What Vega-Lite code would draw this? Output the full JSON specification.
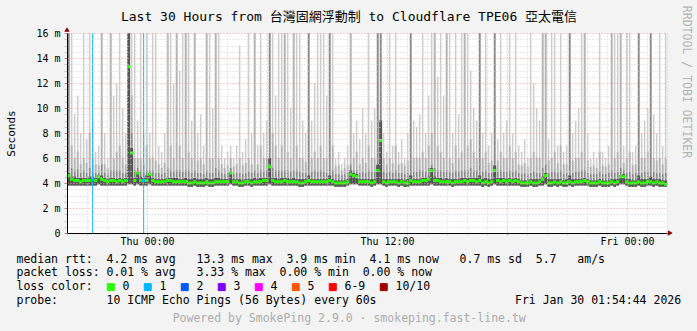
{
  "$schema": "https://vega.github.io/schema/vega-lite/v6.json",
  "width": 600,
  "height": 200,
  "autosize": {"type": "none"},
  "padding": {"left": 67, "top": 33, "right": 30, "bottom": 98},
  "background": "#f3f3f3",
  "config": {"view": {"fill": "#ffffff", "stroke": null}, "font": "DejaVu Sans Mono"},
  "title": {
    "text": "Last 30 Hours from 台灣固網浮動制 to Cloudflare TPE06 亞太電信",
    "font": "DejaVu Sans Mono, Noto Sans CJK TC",
    "fontSize": 13,
    "fontWeight": "normal",
    "color": "#000000",
    "anchor": "middle",
    "frame": "group",
    "dx": -18,
    "offset": -32,
    "baseline": "bottom"
  },
  "data": {"values": [
    {"t":5,"lo":3.8,"m":4.6,"d":4.8,"c":20,"b":20,"a":20,"l":"0"},
    {"t":14,"lo":3.8,"m":4.3,"d":4.5,"c":5.2,"b":7,"a":20,"l":"0"},
    {"t":23,"lo":3.8,"m":4.2,"d":4.5,"c":5,"b":6,"a":9.5,"l":"0"},
    {"t":32,"lo":3.8,"m":4.2,"d":4.4,"c":5.1,"b":6.5,"a":11,"l":"0"},
    {"t":41,"lo":3.8,"m":4.1,"d":4.4,"c":4.8,"b":5.5,"a":8,"l":"0"},
    {"t":50,"lo":3.8,"m":4.2,"d":4.4,"c":5,"b":6,"a":20,"l":"0"},
    {"t":59,"lo":3.8,"m":4.2,"d":4.4,"c":4.8,"b":5.6,"a":7.5,"l":"0"},
    {"t":68,"lo":3.8,"m":4.2,"d":4.5,"c":5.2,"b":8,"a":20,"l":"0"},
    {"t":77,"lo":3.8,"m":4.3,"d":4.5,"c":5,"b":6,"a":9,"l":"1"},
    {"t":86,"lo":3.8,"m":4.2,"d":4.4,"c":4.8,"b":5.5,"a":6.5,"l":"0"},
    {"t":95,"lo":3.9,"m":4.5,"d":4.6,"c":4.8,"b":5.4,"a":7,"l":"0"},
    {"t":104,"lo":3.8,"m":4.3,"d":4.6,"c":5.5,"b":20,"a":20,"l":"0"},
    {"t":113,"lo":3.8,"m":4.2,"d":4.4,"c":4.8,"b":5.5,"a":8,"l":"0"},
    {"t":122,"lo":3.8,"m":4.1,"d":4.3,"c":4.7,"b":5.2,"a":6,"l":"0"},
    {"t":131,"lo":3.8,"m":4.2,"d":4.4,"c":5,"b":20,"a":20,"l":"0"},
    {"t":140,"lo":3.8,"m":4.2,"d":4.4,"c":5,"b":6,"a":11,"l":"0"},
    {"t":149,"lo":3.8,"m":4.1,"d":4.3,"c":5,"b":6.5,"a":12,"l":"0"},
    {"t":158,"lo":3.8,"m":4.2,"d":4.4,"c":5,"b":7,"a":20,"l":"0"},
    {"t":167,"lo":3.8,"m":4.1,"d":4.3,"c":4.8,"b":6,"a":10,"l":"0"},
    {"t":176,"lo":3.8,"m":4.2,"d":4.4,"c":4.8,"b":5.5,"a":8,"l":"0"},
    {"t":185,"lo":3.9,"m":13.3,"d":20,"c":20,"b":20,"a":20,"l":"0"},
    {"t":194,"lo":3.9,"m":6.4,"d":6.8,"c":8,"b":11,"a":20,"l":"0"},
    {"t":203,"lo":3.8,"m":4.2,"d":4.4,"c":5,"b":6,"a":20,"l":"0"},
    {"t":212,"lo":3.9,"m":4.8,"d":4.9,"c":5.2,"b":6,"a":9,"l":"0"},
    {"t":221,"lo":3.8,"m":4.2,"d":4.5,"c":5,"b":6,"a":20,"l":"0"},
    {"t":230,"lo":3.8,"m":4.2,"d":4.4,"c":4.8,"b":5.5,"a":8,"l":"1"},
    {"t":239,"lo":3.8,"m":4.2,"d":4.6,"c":5,"b":7,"a":20,"l":"0"},
    {"t":248,"lo":3.9,"m":4.7,"d":4.8,"c":5,"b":6,"a":8,"l":"0"},
    {"t":257,"lo":3.8,"m":4.2,"d":4.4,"c":5,"b":6,"a":20,"l":"0"},
    {"t":266,"lo":3.8,"m":4.1,"d":4.3,"c":4.8,"b":5.8,"a":20,"l":"0"},
    {"t":275,"lo":3.8,"m":4.1,"d":4.3,"c":4.8,"b":5.5,"a":7,"l":"0"},
    {"t":284,"lo":3.8,"m":4.1,"d":4.3,"c":4.7,"b":5.2,"a":6.5,"l":"0"},
    {"t":293,"lo":3.8,"m":4.1,"d":4.3,"c":4.8,"b":5.6,"a":8,"l":"0"},
    {"t":302,"lo":3.8,"m":4.2,"d":4.4,"c":5.2,"b":20,"a":20,"l":"0"},
    {"t":311,"lo":3.8,"m":4.2,"d":4.4,"c":5,"b":7,"a":20,"l":"0"},
    {"t":320,"lo":3.8,"m":4.1,"d":4.4,"c":4.9,"b":6,"a":12,"l":"0"},
    {"t":329,"lo":3.8,"m":4.1,"d":4.4,"c":5,"b":20,"a":20,"l":"0"},
    {"t":338,"lo":3.8,"m":4.1,"d":4.3,"c":5,"b":7,"a":13,"l":"0"},
    {"t":347,"lo":3.8,"m":4.1,"d":4.3,"c":4.9,"b":6,"a":20,"l":"0"},
    {"t":356,"lo":3.8,"m":4.1,"d":4.4,"c":5,"b":20,"a":20,"l":"0"},
    {"t":365,"lo":3.7,"m":4.0,"d":4.3,"c":5,"b":6.5,"a":20,"l":"0"},
    {"t":374,"lo":3.7,"m":4.0,"d":4.3,"c":4.8,"b":6,"a":9,"l":"0"},
    {"t":383,"lo":3.8,"m":4.1,"d":4.4,"c":5,"b":20,"a":20,"l":"0"},
    {"t":392,"lo":3.7,"m":4.0,"d":4.3,"c":4.8,"b":5.8,"a":8,"l":"0"},
    {"t":401,"lo":3.7,"m":4.0,"d":4.3,"c":4.8,"b":6,"a":9.5,"l":"0"},
    {"t":410,"lo":3.7,"m":4.0,"d":4.3,"c":4.7,"b":5.5,"a":7,"l":"0"},
    {"t":419,"lo":3.8,"m":4.1,"d":4.4,"c":5,"b":20,"a":20,"l":"0"},
    {"t":428,"lo":3.7,"m":4.0,"d":4.3,"c":4.8,"b":6,"a":20,"l":"0"},
    {"t":437,"lo":3.7,"m":4.0,"d":4.3,"c":4.8,"b":6,"a":10,"l":"0"},
    {"t":446,"lo":3.8,"m":4.1,"d":4.4,"c":5.2,"b":20,"a":20,"l":"0"},
    {"t":455,"lo":3.8,"m":4.1,"d":4.4,"c":5,"b":6,"a":20,"l":"0"},
    {"t":464,"lo":3.8,"m":4.1,"d":4.3,"c":4.8,"b":5.5,"a":7,"l":"0"},
    {"t":473,"lo":3.8,"m":4.1,"d":4.3,"c":4.7,"b":5.2,"a":6,"l":"0"},
    {"t":482,"lo":3.8,"m":4.1,"d":4.3,"c":4.8,"b":5.4,"a":6.5,"l":"0"},
    {"t":491,"lo":3.9,"m":4.8,"d":4.9,"c":5.2,"b":6,"a":7,"l":"0"},
    {"t":500,"lo":3.8,"m":4.1,"d":4.3,"c":4.7,"b":5.3,"a":6,"l":"0"},
    {"t":509,"lo":3.8,"m":4.1,"d":4.3,"c":4.8,"b":5.5,"a":7,"l":"0"},
    {"t":518,"lo":3.7,"m":4.0,"d":4.3,"c":4.8,"b":6,"a":15,"l":"0"},
    {"t":527,"lo":3.7,"m":4.0,"d":4.2,"c":4.7,"b":5.4,"a":6.5,"l":"0"},
    {"t":536,"lo":3.8,"m":4.1,"d":4.3,"c":4.8,"b":5.6,"a":7.5,"l":"0"},
    {"t":545,"lo":3.8,"m":4.1,"d":4.3,"c":4.9,"b":6,"a":20,"l":"0"},
    {"t":554,"lo":3.7,"m":4.0,"d":4.3,"c":4.8,"b":5.5,"a":8,"l":"0"},
    {"t":563,"lo":3.8,"m":4.1,"d":4.4,"c":5,"b":20,"a":20,"l":"0"},
    {"t":572,"lo":3.8,"m":4.1,"d":4.3,"c":4.8,"b":5.5,"a":7,"l":"0"},
    {"t":581,"lo":3.8,"m":4.1,"d":4.4,"c":5,"b":7,"a":20,"l":"0"},
    {"t":590,"lo":3.8,"m":4.2,"d":4.4,"c":4.9,"b":6,"a":8,"l":"0"},
    {"t":599,"lo":3.8,"m":4.2,"d":4.4,"c":5,"b":6,"a":9,"l":"0"},
    {"t":608,"lo":3.9,"m":5.3,"d":6,"c":20,"b":20,"a":20,"l":"0"},
    {"t":617,"lo":3.8,"m":4.2,"d":4.4,"c":5.2,"b":8,"a":20,"l":"0"},
    {"t":626,"lo":3.8,"m":4.1,"d":4.4,"c":5,"b":7,"a":11,"l":"0"},
    {"t":635,"lo":3.8,"m":4.1,"d":4.3,"c":5,"b":6,"a":20,"l":"0"},
    {"t":644,"lo":3.8,"m":4.1,"d":4.4,"c":5,"b":7,"a":20,"l":"0"},
    {"t":653,"lo":3.8,"m":4.2,"d":4.4,"c":5,"b":20,"a":20,"l":"0"},
    {"t":662,"lo":3.8,"m":4.1,"d":4.4,"c":5,"b":6.5,"a":20,"l":"0"},
    {"t":671,"lo":3.8,"m":4.1,"d":4.3,"c":4.9,"b":6,"a":10,"l":"0"},
    {"t":680,"lo":3.8,"m":4.1,"d":4.4,"c":5,"b":20,"a":20,"l":"0"},
    {"t":689,"lo":3.8,"m":4.1,"d":4.3,"c":5,"b":7,"a":20,"l":"0"},
    {"t":698,"lo":3.7,"m":4.0,"d":4.3,"c":4.9,"b":6,"a":20,"l":"0"},
    {"t":707,"lo":3.7,"m":4.0,"d":4.3,"c":4.8,"b":6,"a":9,"l":"0"},
    {"t":716,"lo":3.8,"m":4.1,"d":4.3,"c":4.8,"b":5.7,"a":8,"l":"0"},
    {"t":725,"lo":3.8,"m":4.2,"d":4.6,"c":20,"b":20,"a":20,"l":"0"},
    {"t":734,"lo":3.8,"m":4.1,"d":4.3,"c":4.9,"b":6,"a":9,"l":"0"},
    {"t":743,"lo":3.8,"m":4.1,"d":4.3,"c":5,"b":6.5,"a":12,"l":"0"},
    {"t":752,"lo":3.8,"m":4.1,"d":4.3,"c":4.9,"b":6,"a":20,"l":"0"},
    {"t":761,"lo":3.8,"m":4.1,"d":4.3,"c":5,"b":7,"a":20,"l":"0"},
    {"t":770,"lo":3.8,"m":4.1,"d":4.3,"c":4.9,"b":6,"a":20,"l":"0"},
    {"t":779,"lo":3.8,"m":4.1,"d":4.3,"c":4.8,"b":6,"a":11,"l":"0"},
    {"t":788,"lo":3.8,"m":4.2,"d":4.6,"c":20,"b":20,"a":20,"l":"0"},
    {"t":797,"lo":3.8,"m":4.1,"d":4.3,"c":5,"b":7,"a":20,"l":"0"},
    {"t":806,"lo":3.7,"m":4.0,"d":4.2,"c":4.7,"b":5.3,"a":6,"l":"0"},
    {"t":815,"lo":3.7,"m":4.0,"d":4.2,"c":4.7,"b":5.4,"a":6.5,"l":"0"},
    {"t":824,"lo":3.7,"m":4.0,"d":4.2,"c":4.6,"b":5,"a":5.5,"l":"0"},
    {"t":833,"lo":3.7,"m":4.0,"d":4.2,"c":4.7,"b":5.2,"a":6,"l":"0"},
    {"t":842,"lo":3.8,"m":4.1,"d":4.3,"c":4.8,"b":5.4,"a":7,"l":"0"},
    {"t":851,"lo":3.9,"m":4.7,"d":5,"c":5.5,"b":20,"a":20,"l":"0"},
    {"t":860,"lo":3.9,"m":4.6,"d":4.8,"c":5,"b":6,"a":8,"l":"0"},
    {"t":869,"lo":3.9,"m":4.5,"d":4.7,"c":5,"b":6.5,"a":9,"l":"0"},
    {"t":878,"lo":3.8,"m":4.1,"d":4.3,"c":4.8,"b":5.5,"a":7.5,"l":"0"},
    {"t":887,"lo":3.8,"m":4.1,"d":4.3,"c":4.9,"b":6,"a":10,"l":"0"},
    {"t":896,"lo":3.8,"m":4.1,"d":4.3,"c":4.8,"b":5.6,"a":8,"l":"0"},
    {"t":905,"lo":3.8,"m":4.1,"d":4.3,"c":5,"b":7,"a":20,"l":"0"},
    {"t":914,"lo":3.7,"m":4.0,"d":4.3,"c":4.9,"b":6,"a":9,"l":"0"},
    {"t":923,"lo":3.8,"m":4.1,"d":4.3,"c":4.9,"b":6,"a":10,"l":"0"},
    {"t":932,"lo":3.9,"m":5.0,"d":5.5,"c":20,"b":20,"a":20,"l":"0"},
    {"t":941,"lo":3.9,"m":7.4,"d":9,"c":20,"b":20,"a":20,"l":"0"},
    {"t":950,"lo":3.8,"m":4.1,"d":4.3,"c":4.9,"b":6,"a":8,"l":"0"},
    {"t":959,"lo":3.7,"m":4.0,"d":4.3,"c":4.8,"b":5.5,"a":6.5,"l":"0"},
    {"t":968,"lo":3.8,"m":4.1,"d":4.3,"c":4.9,"b":6,"a":20,"l":"0"},
    {"t":977,"lo":3.8,"m":4.1,"d":4.3,"c":4.8,"b":5.6,"a":7,"l":"0"},
    {"t":986,"lo":3.8,"m":4.1,"d":4.3,"c":5,"b":7,"a":20,"l":"0"},
    {"t":995,"lo":3.7,"m":4.0,"d":4.3,"c":4.8,"b":5.5,"a":6.5,"l":"0"},
    {"t":1004,"lo":3.8,"m":4.1,"d":4.3,"c":4.8,"b":5.6,"a":7.5,"l":"0"},
    {"t":1013,"lo":3.7,"m":4.0,"d":4.2,"c":4.7,"b":5.4,"a":6,"l":"0"},
    {"t":1022,"lo":3.7,"m":4.0,"d":4.3,"c":4.8,"b":5.8,"a":8,"l":"0"},
    {"t":1031,"lo":3.8,"m":4.2,"d":4.6,"c":20,"b":20,"a":20,"l":"0"},
    {"t":1040,"lo":3.8,"m":4.1,"d":4.3,"c":4.9,"b":6,"a":9,"l":"0"},
    {"t":1049,"lo":3.8,"m":4.1,"d":4.3,"c":4.9,"b":6,"a":8.5,"l":"0"},
    {"t":1058,"lo":3.8,"m":4.1,"d":4.3,"c":5,"b":6,"a":9.5,"l":"0"},
    {"t":1067,"lo":3.8,"m":4.2,"d":4.4,"c":5,"b":6.5,"a":20,"l":"0"},
    {"t":1076,"lo":3.8,"m":4.2,"d":4.4,"c":4.9,"b":6,"a":8,"l":"0"},
    {"t":1085,"lo":3.8,"m":4.3,"d":4.5,"c":5.2,"b":7,"a":11,"l":"0"},
    {"t":1094,"lo":3.9,"m":5.0,"d":5.2,"c":5.5,"b":8,"a":20,"l":"0"},
    {"t":1103,"lo":3.8,"m":4.2,"d":4.5,"c":5.2,"b":20,"a":20,"l":"0"},
    {"t":1112,"lo":3.8,"m":4.2,"d":4.4,"c":5,"b":7,"a":12.5,"l":"0"},
    {"t":1121,"lo":3.8,"m":4.1,"d":4.4,"c":5,"b":6.5,"a":20,"l":"0"},
    {"t":1130,"lo":3.8,"m":4.1,"d":4.3,"c":4.9,"b":6,"a":11,"l":"0"},
    {"t":1139,"lo":3.8,"m":4.1,"d":4.4,"c":5,"b":20,"a":20,"l":"0"},
    {"t":1148,"lo":3.8,"m":4.1,"d":4.3,"c":4.9,"b":6,"a":20,"l":"0"},
    {"t":1157,"lo":3.7,"m":4.0,"d":4.3,"c":4.8,"b":5.6,"a":8,"l":"0"},
    {"t":1166,"lo":3.8,"m":4.1,"d":4.3,"c":5,"b":7,"a":20,"l":"0"},
    {"t":1175,"lo":3.8,"m":4.1,"d":4.3,"c":4.9,"b":6,"a":9.5,"l":"0"},
    {"t":1184,"lo":3.8,"m":4.1,"d":4.4,"c":5,"b":6.5,"a":20,"l":"0"},
    {"t":1193,"lo":3.8,"m":4.2,"d":4.4,"c":5,"b":20,"a":20,"l":"0"},
    {"t":1202,"lo":3.8,"m":4.1,"d":4.4,"c":5,"b":7,"a":20,"l":"0"},
    {"t":1211,"lo":3.8,"m":4.2,"d":4.4,"c":5.2,"b":7.5,"a":13,"l":"0"},
    {"t":1220,"lo":3.8,"m":4.2,"d":4.4,"c":5,"b":6.5,"a":10,"l":"0"},
    {"t":1229,"lo":3.8,"m":4.1,"d":4.4,"c":5,"b":6,"a":9,"l":"0"},
    {"t":1238,"lo":3.8,"m":4.2,"d":4.6,"c":20,"b":20,"a":20,"l":"0"},
    {"t":1247,"lo":3.7,"m":4.0,"d":4.3,"c":4.9,"b":6,"a":8,"l":"0"},
    {"t":1256,"lo":3.8,"m":4.1,"d":4.4,"c":5,"b":6.5,"a":20,"l":"0"},
    {"t":1265,"lo":3.7,"m":4.0,"d":4.3,"c":4.8,"b":5.6,"a":7,"l":"0"},
    {"t":1274,"lo":3.8,"m":4.1,"d":4.3,"c":4.8,"b":5.8,"a":8,"l":"0"},
    {"t":1283,"lo":3.9,"m":5.0,"d":5.4,"c":20,"b":20,"a":20,"l":"0"},
    {"t":1292,"lo":3.8,"m":4.2,"d":4.4,"c":4.9,"b":5.8,"a":7.5,"l":"0"},
    {"t":1301,"lo":3.8,"m":4.1,"d":4.4,"c":5,"b":6.5,"a":20,"l":"0"},
    {"t":1310,"lo":3.8,"m":4.2,"d":4.4,"c":4.9,"b":6,"a":8,"l":"0"},
    {"t":1319,"lo":3.8,"m":4.1,"d":4.3,"c":4.9,"b":6,"a":9,"l":"0"},
    {"t":1328,"lo":3.8,"m":4.2,"d":4.4,"c":5,"b":7,"a":20,"l":"0"},
    {"t":1337,"lo":3.8,"m":4.1,"d":4.3,"c":4.9,"b":6,"a":8,"l":"0"},
    {"t":1346,"lo":3.8,"m":4.2,"d":4.4,"c":5,"b":6.5,"a":20,"l":"0"},
    {"t":1355,"lo":3.8,"m":4.1,"d":4.3,"c":4.8,"b":5.5,"a":7,"l":"0"},
    {"t":1364,"lo":3.7,"m":4.0,"d":4.2,"c":4.7,"b":5.4,"a":6.5,"l":"0"},
    {"t":1373,"lo":3.7,"m":4.0,"d":4.2,"c":4.8,"b":5.6,"a":7.5,"l":"0"},
    {"t":1382,"lo":3.7,"m":4.0,"d":4.2,"c":4.7,"b":5.3,"a":6,"l":"0"},
    {"t":1391,"lo":3.8,"m":4.1,"d":4.3,"c":4.8,"b":6,"a":20,"l":"0"},
    {"t":1400,"lo":3.7,"m":4.0,"d":4.3,"c":4.9,"b":6.5,"a":12,"l":"0"},
    {"t":1409,"lo":3.7,"m":4.0,"d":4.3,"c":4.8,"b":6,"a":10,"l":"0"},
    {"t":1418,"lo":3.8,"m":4.1,"d":4.3,"c":4.8,"b":6,"a":9,"l":"0"},
    {"t":1427,"lo":3.8,"m":4.3,"d":4.5,"c":5.2,"b":20,"a":20,"l":"0"},
    {"t":1436,"lo":3.9,"m":4.6,"d":4.8,"c":5.5,"b":20,"a":20,"l":"0"},
    {"t":1445,"lo":3.7,"m":4.0,"d":4.3,"c":4.8,"b":5.8,"a":7.5,"l":"0"},
    {"t":1454,"lo":3.7,"m":4.0,"d":4.3,"c":4.9,"b":6,"a":20,"l":"0"},
    {"t":1463,"lo":3.8,"m":4.1,"d":4.3,"c":4.9,"b":6.5,"a":20,"l":"0"},
    {"t":1472,"lo":3.7,"m":4.0,"d":4.3,"c":4.8,"b":5.6,"a":7,"l":"0"},
    {"t":1481,"lo":3.8,"m":4.1,"d":4.3,"c":5,"b":7,"a":20,"l":"0"},
    {"t":1490,"lo":3.7,"m":4.0,"d":4.2,"c":4.7,"b":5.5,"a":6.5,"l":"0"},
    {"t":1499,"lo":3.7,"m":4.0,"d":4.3,"c":4.8,"b":5.5,"a":7,"l":"0"},
    {"t":1508,"lo":3.8,"m":4.1,"d":4.6,"c":20,"b":20,"a":20,"l":"0"},
    {"t":1517,"lo":3.7,"m":4.0,"d":4.3,"c":4.8,"b":5.8,"a":8,"l":"0"},
    {"t":1526,"lo":3.8,"m":4.1,"d":4.3,"c":4.9,"b":6,"a":9,"l":"0"},
    {"t":1535,"lo":3.8,"m":4.1,"d":4.3,"c":4.9,"b":6,"a":10,"l":"0"},
    {"t":1544,"lo":3.8,"m":4.1,"d":4.3,"c":5,"b":6.5,"a":20,"l":"0"},
    {"t":1553,"lo":3.8,"m":4.2,"d":4.4,"c":5,"b":20,"a":20,"l":"0"},
    {"t":1562,"lo":3.8,"m":4.1,"d":4.3,"c":4.8,"b":5.8,"a":8,"l":"0"},
    {"t":1571,"lo":3.7,"m":4.0,"d":4.2,"c":4.7,"b":5.3,"a":6,"l":"0"},
    {"t":1580,"lo":3.7,"m":4.0,"d":4.2,"c":4.7,"b":5.4,"a":6.5,"l":"0"},
    {"t":1589,"lo":3.7,"m":4.0,"d":4.2,"c":4.7,"b":5.2,"a":6,"l":"0"},
    {"t":1598,"lo":3.8,"m":4.1,"d":4.3,"c":4.9,"b":6.5,"a":20,"l":"0"},
    {"t":1607,"lo":3.7,"m":4.0,"d":4.2,"c":4.7,"b":5.4,"a":6.5,"l":"0"},
    {"t":1616,"lo":3.7,"m":4.0,"d":4.2,"c":4.7,"b":5.3,"a":6,"l":"0"},
    {"t":1625,"lo":3.7,"m":4.0,"d":4.2,"c":4.8,"b":5.5,"a":7,"l":"0"},
    {"t":1634,"lo":3.8,"m":4.1,"d":4.3,"c":5,"b":20,"a":20,"l":"0"},
    {"t":1643,"lo":3.7,"m":4.0,"d":4.3,"c":4.8,"b":6,"a":20,"l":"0"},
    {"t":1652,"lo":3.8,"m":4.1,"d":4.3,"c":4.9,"b":6.5,"a":20,"l":"0"},
    {"t":1661,"lo":3.9,"m":4.5,"d":4.6,"c":5.2,"b":20,"a":20,"l":"0"},
    {"t":1670,"lo":3.9,"m":4.5,"d":4.7,"c":5,"b":5.6,"a":7,"l":"0"},
    {"t":1679,"lo":3.8,"m":4.1,"d":4.3,"c":4.8,"b":6,"a":20,"l":"0"},
    {"t":1688,"lo":3.7,"m":4.0,"d":4.3,"c":4.9,"b":6.5,"a":20,"l":"0"},
    {"t":1697,"lo":3.7,"m":4.0,"d":4.2,"c":4.7,"b":5.4,"a":6.5,"l":"0"},
    {"t":1706,"lo":3.7,"m":4.0,"d":4.2,"c":4.8,"b":5.5,"a":7,"l":"0"},
    {"t":1715,"lo":3.8,"m":4.1,"d":4.6,"c":20,"b":20,"a":20,"l":"0"},
    {"t":1724,"lo":3.7,"m":4.0,"d":4.3,"c":4.8,"b":6,"a":8,"l":"0"},
    {"t":1733,"lo":3.7,"m":4.0,"d":4.3,"c":4.9,"b":6,"a":9,"l":"0"},
    {"t":1742,"lo":3.8,"m":4.1,"d":4.3,"c":4.9,"b":6.5,"a":10,"l":"0"},
    {"t":1751,"lo":3.8,"m":4.1,"d":4.5,"c":20,"b":20,"a":20,"l":"0"},
    {"t":1760,"lo":3.7,"m":4.0,"d":4.3,"c":4.9,"b":6,"a":9.5,"l":"0"},
    {"t":1769,"lo":3.8,"m":4.1,"d":4.3,"c":4.8,"b":5.8,"a":8,"l":"0"},
    {"t":1778,"lo":3.7,"m":4.0,"d":4.3,"c":4.8,"b":6,"a":20,"l":"0"},
    {"t":1787,"lo":3.7,"m":4.0,"d":4.2,"c":4.7,"b":5.5,"a":7,"l":"0"},
    {"t":1796,"lo":3.7,"m":3.9,"d":4.2,"c":4.8,"b":6,"a":20,"l":"0"}
  ]},
  "resolve": {"axis": {"x": "independent", "y": "independent"}},
  "layer": [
    {
      "mark": {"type": "rule", "strokeWidth": 1.5, "color": "#cdcdcd", "clip": true},
      "encoding": {
        "x": {
          "field": "t", "type": "quantitative",
          "scale": {"domain": [0, 1800], "nice": false, "zero": false},
          "axis": {
            "values": [0,60,120,180,240,300,360,420,480,540,600,660,720,780,840,900,960,1020,1080,1140,1200,1260,1320,1380,1440,1500,1560,1620,1680,1740,1800],
            "labelExpr": "datum.value == 240 ? 'Thu 00:00' : datum.value == 960 ? 'Thu 12:00' : datum.value == 1680 ? 'Fri 00:00' : ''",
            "labelOverlap": false, "labelFlush": false,
            "labelFont": "DejaVu Sans Mono", "labelFontSize": 10, "labelColor": "#000000", "labelPadding": 1,
            "tickSize": 2, "tickColor": {"condition": {"test": "datum.value % 360 == 240", "value": "#d08080"}, "value": "#c8c8c8"},
            "grid": true, "gridDash": [1, 2],
            "gridColor": {"condition": {"test": "datum.value % 360 == 240", "value": "#e8a0a0"}, "value": "#d4d4d4"},
            "domain": true, "domainColor": "#000000", "domainWidth": 1,
            "title": [
              "median rtt:\u00a0\u00a04.2 ms avg\u00a0\u00a0\u00a013.3 ms max\u00a0\u00a03.9 ms min\u00a0\u00a04.1 ms now\u00a0\u00a0\u00a00.7 ms sd\u00a0\u00a05.7\u00a0\u00a0\u00a0am/s",
              "packet loss: 0.01 % avg\u00a0\u00a0\u00a03.33 % max\u00a0\u00a00.00 % min\u00a0\u00a00.00 % now",
              "loss color:",
              "probe:\u00a0\u00a0\u00a0\u00a0\u00a0\u00a0\u00a010 ICMP Echo Pings (56 Bytes) every 60s\u00a0\u00a0\u00a0\u00a0\u00a0\u00a0\u00a0\u00a0\u00a0\u00a0\u00a0\u00a0\u00a0\u00a0\u00a0\u00a0\u00a0\u00a0\u00a0\u00a0Fri Jan 30 01:54:44 2026"
            ],
            "titleFont": "DejaVu Sans Mono", "titleFontSize": 11.5, "titleFontWeight": "normal", "titleColor": "#000000",
            "titleAnchor": "start", "titleAlign": "left", "titleBaseline": "top",
            "titleX": -51, "titleY": 20, "titleLineHeight": 13.9,
            "zindex": 1
          }
        },
        "y": {
          "field": "lo", "type": "quantitative",
          "scale": {"domain": [0, 16], "nice": false, "zero": false},
          "axis": {
            "values": [0,0.5,1,1.5,2,2.5,3,3.5,4,4.5,5,5.5,6,6.5,7,7.5,8,8.5,9,9.5,10,10.5,11,11.5,12,12.5,13,13.5,14,14.5,15,15.5,16],
            "labelExpr": "datum.value % 2 == 0 ? (datum.value == 0 ? '0' : datum.value + ' m') : ''",
            "labelOverlap": false, "labelFlush": false,
            "labelFont": "DejaVu Sans Mono", "labelFontSize": 10, "labelColor": "#000000", "labelPadding": 4,
            "tickSize": 3, "tickColor": {"condition": {"test": "datum.value % 2 == 0", "value": "#d08080"}, "value": "#c8c8c8"},
            "grid": true, "gridDash": [1, 2],
            "gridColor": {"condition": {"test": "datum.value % 2 == 0", "value": "#e8a0a0"}, "value": "#d4d4d4"},
            "domain": true, "domainColor": "#000000", "domainWidth": 1,
            "title": "Seconds",
            "titleFont": "DejaVu Sans Mono", "titleFontSize": 11, "titleFontWeight": "normal", "titleColor": "#000000",
            "titleAngle": 270, "titleX": -56, "titleY": 100, "titleAlign": "center", "titleBaseline": "middle",
            "zindex": 1
          }
        },
        "y2": {"field": "a"}
      }
    },
    {
      "mark": {"type": "rule", "strokeWidth": 1.8, "color": "#b2b2b2", "clip": true},
      "encoding": {
        "x": {"field": "t", "type": "quantitative", "axis": null},
        "y": {"field": "lo", "type": "quantitative", "axis": null},
        "y2": {"field": "b"}
      }
    },
    {
      "mark": {"type": "rule", "strokeWidth": 1.5, "color": "#888888", "clip": true},
      "encoding": {
        "x": {"field": "t", "type": "quantitative", "axis": null},
        "y": {"field": "lo", "type": "quantitative", "axis": null},
        "y2": {"field": "c"}
      }
    },
    {
      "mark": {"type": "rule", "strokeWidth": 3, "color": "#555555", "clip": true},
      "encoding": {
        "x": {"field": "t", "type": "quantitative", "axis": null},
        "y": {"field": "lo", "type": "quantitative", "axis": null},
        "y2": {"field": "d"}
      }
    },
    {
      "transform": [{"filter": "datum.l != '0'"}],
      "mark": {"type": "rule", "strokeWidth": 1, "clip": true},
      "encoding": {
        "x": {"field": "t", "type": "quantitative", "axis": null},
        "y": {"datum": 0, "type": "quantitative", "axis": null},
        "y2": {"datum": 16},
        "color": {
          "field": "l", "type": "nominal",
          "legend": {
            "orient": "none", "legendX": 38, "legendY": 248, "direction": "horizontal",
            "title": null, "symbolType": "square", "symbolSize": 49,
            "symbolStrokeColor": "#000000", "symbolStrokeWidth": 1, "symbolOpacity": 1,
            "labelFont": "DejaVu Sans Mono", "labelFontSize": 11.5, "labelColor": "#000000",
            "labelOffset": 6, "columnPadding": 12, "padding": 0, "offset": 0,
            "encode": {"symbols": {"update": {"fill": {"scale": "color", "field": "value"}, "stroke": {"value": "#000000"}, "strokeWidth": {"value": 1}, "shape": {"value": "square"}, "opacity": {"value": 1}}}}
          }
        }
      }
    },
    {
      "mark": {"type": "point", "shape": "square", "filled": true, "size": 9, "opacity": 1, "clip": true},
      "encoding": {
        "x": {
          "field": "t", "type": "quantitative",
          "axis": {
            "orient": "top", "labels": false, "ticks": false, "domain": false, "grid": false,
            "title": "Powered by SmokePing 2.9.0 · smokeping.fast-line.tw",
            "titleFont": "DejaVu Sans Mono", "titleFontSize": 11.5, "titleFontWeight": "normal", "titleColor": "#acacac",
            "titleX": 281.7, "titleY": 285, "titleAlign": "center", "titleBaseline": "middle"
          }
        },
        "y": {
          "field": "m", "type": "quantitative",
          "axis": {
            "orient": "right", "labels": false, "ticks": false, "domain": false, "grid": false,
            "title": "RRDTOOL / TOBI OETIKER",
            "titleFont": "DejaVu Sans Mono", "titleFontSize": 11.5, "titleFontWeight": "normal", "titleColor": "#b4b4b4",
            "titleAngle": 90, "titleX": 18, "titleY": 48.5, "titleAlign": "center", "titleBaseline": "middle"
          }
        },
        "color": {
          "field": "l", "type": "nominal",
          "scale": {
            "domain": ["0", "1", "2", "3", "4", "5", "6-9", "10/10"],
            "range": ["#26ff00", "#00b8ff", "#0059ff", "#7e00ff", "#ff00ff", "#ff5500", "#ff0000", "#a10000"]
          },
          "legend": {
            "orient": "none", "legendX": 38, "legendY": 248, "direction": "horizontal",
            "title": null, "symbolType": "square", "symbolSize": 49,
            "symbolStrokeColor": "#000000", "symbolStrokeWidth": 1, "symbolOpacity": 1,
            "labelFont": "DejaVu Sans Mono", "labelFontSize": 11.5, "labelColor": "#000000",
            "labelOffset": 6, "columnPadding": 12, "padding": 0, "offset": 0,
            "encode": {"symbols": {"update": {"fill": {"scale": "color", "field": "value"}, "stroke": {"value": "#000000"}, "strokeWidth": {"value": 1}, "shape": {"value": "square"}, "opacity": {"value": 1}}}}
          }
        }
      }
    },
    {
      "data": {"values": [{}]},
      "mark": {"type": "point", "shape": "triangle-up", "filled": true, "size": 30, "color": "#8b0000", "clip": false, "opacity": 1},
      "encoding": {
        "x": {"datum": 0, "type": "quantitative", "axis": null},
        "y": {"datum": 16.28, "type": "quantitative", "axis": null}
      }
    },
    {
      "data": {"values": [{}]},
      "mark": {"type": "point", "shape": "triangle-right", "filled": true, "size": 30, "color": "#8b0000", "clip": false, "opacity": 1},
      "encoding": {
        "x": {"datum": 1810, "type": "quantitative", "axis": null},
        "y": {"datum": 0, "type": "quantitative", "axis": null}
      }
    }
  ]
}
